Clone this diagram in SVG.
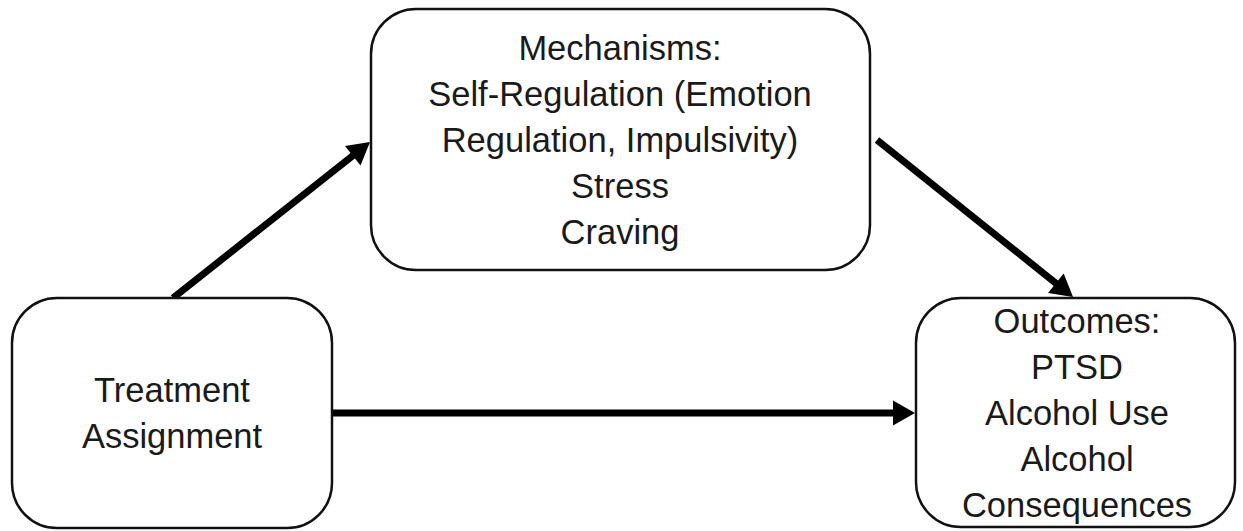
<svg xmlns="http://www.w3.org/2000/svg" width="1243" height="531" viewBox="0 0 1243 531">
<style>
.box{fill:#fff;stroke:#111;stroke-width:2.5}
.t{font-family:"Liberation Sans",Arial,sans-serif;font-size:34.5px;fill:#1a1a1a;text-anchor:middle}
.c{stroke:#000;stroke-width:7;fill:none;marker-end:url(#ah)}
</style>
<defs>
<marker id="ah" markerUnits="userSpaceOnUse" markerWidth="24" markerHeight="26" refX="4" refY="12.5" orient="auto" overflow="visible">
<path d="M0,0 L22,12.5 L0,25 z" fill="#000"/>
</marker>
</defs>
<rect width="1243" height="531" fill="#fff"/>
<g id="connectors">
<line class="c" x1="173" y1="298" x2="355.9" y2="153.2"/>
<line class="c" x1="877" y1="140" x2="1059" y2="285.7"/>
<line class="c" x1="333" y1="413" x2="897" y2="413"/>
</g>
<g id="mechanisms">
<rect class="box" x="371" y="9" width="499" height="261" rx="45" ry="45"/>
<text class="t" x="620" y="60">Mechanisms:</text>
<text class="t" x="620" y="106">Self-Regulation (Emotion</text>
<text class="t" x="620" y="152">Regulation, Impulsivity)</text>
<text class="t" x="620" y="198">Stress</text>
<text class="t" x="620" y="244">Craving</text>
</g>
<g id="treatment">
<rect class="box" x="12" y="298" width="320" height="230" rx="45" ry="45"/>
<text class="t" x="172" y="402">Treatment</text>
<text class="t" x="172" y="448">Assignment</text>
</g>
<g id="outcomes">
<rect class="box" x="916" y="298" width="319" height="229" rx="45" ry="45"/>
<text class="t" x="1077" y="333">Outcomes:</text>
<text class="t" x="1077" y="379">PTSD</text>
<text class="t" x="1077" y="425">Alcohol Use</text>
<text class="t" x="1077" y="471">Alcohol</text>
<text class="t" x="1077" y="517">Consequences</text>
</g>
</svg>
